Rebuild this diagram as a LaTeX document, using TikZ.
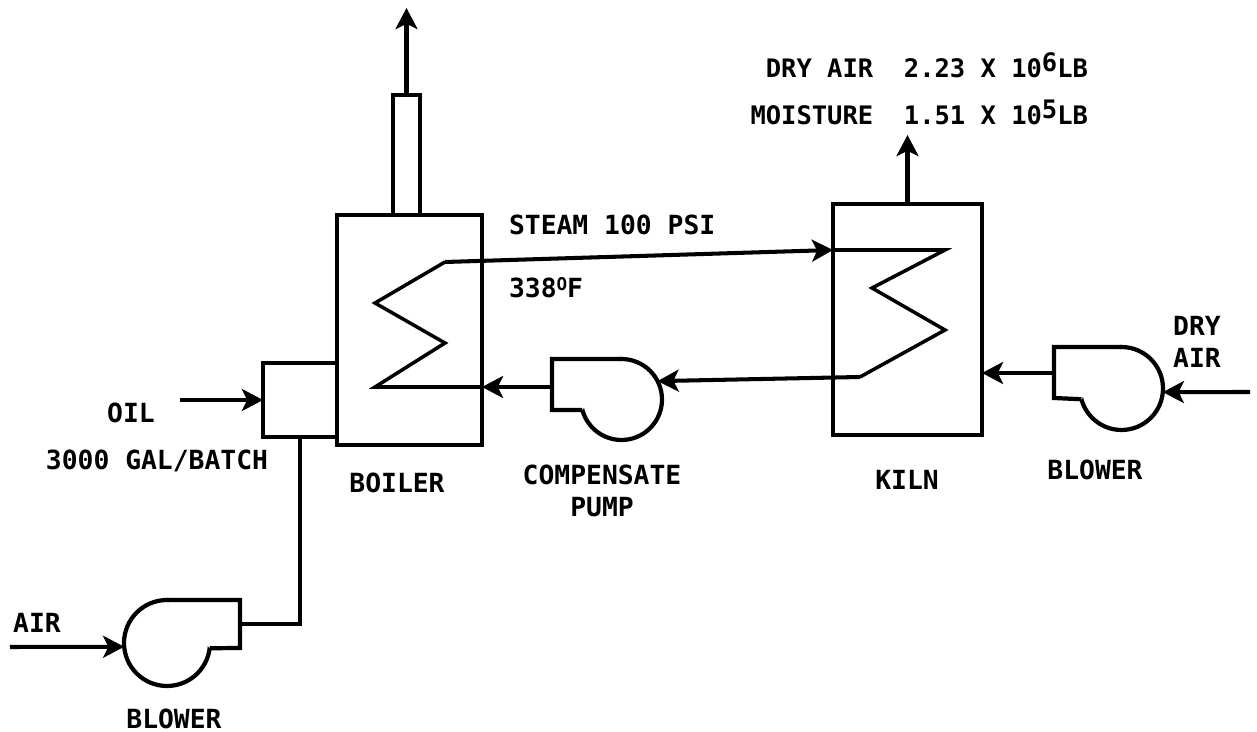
\documentclass[tikz,border=0pt]{standalone}
\usepackage{fontspec}
\setmainfont{DejaVu Sans Mono}
\usetikzlibrary{arrows.meta}
\newcommand\upnum[1]{\raisebox{3.5pt}{#1}}
\newcommand\updeg{\raisebox{4.5pt}{\fontsize{10}{10}\selectfont O}}

\begin{document}
\begin{tikzpicture}[x=0.02cm,y=-0.02cm,>={Stealth[length=12pt,width=12.5pt,inset=3pt]},line width=2.3pt,
    unit/.style={draw,line width=2.7pt,inner sep=0pt,outer sep=0pt},
    fan/.style={draw,circle,line width=2.4pt,inner sep=0pt,outer sep=0pt},
    txt/.style={anchor=base,inner sep=0pt,font=\fontsize{15}{18.7}\selectfont\bfseries},
    coil/.style={line width=2pt}]
    \useasboundingbox (0,0) rectangle (1257,732);
    % equipment
    \node[unit,minimum width=2.9cm,minimum height=4.6cm](boiler)at(409.5,330){};
    \node[unit,minimum width=1.48cm,minimum height=1.48cm](burner)at(300,400){};
    \node[unit,minimum width=0.54cm,minimum height=2.4cm](stack)at(406.5,155){};
    \node[unit,minimum width=2.98cm,minimum height=4.62cm](kiln)at(907.5,319.5){};
    \node[fan,minimum size=1.62cm](pump)at(621.5,399.5){};
    \node[fan,minimum size=1.72cm](blowA)at(167,643){};
    \node[fan,minimum size=1.66cm](blowK)at(1121.5,388.5){};
    % outlets of pump and blowers
    \fill[white](pump.north)--++(-69.5,0)--++(0,51)--(pump.195)--cycle;
    \draw[line width=2.4pt](pump.north)--++(-69.5,0)--++(0,51)--(pump.195);
    \fill[white](blowA.north)--++(73,0)--++(0,48)--(blowA.-7)--cycle;
    \draw[line width=2.4pt](blowA.north)--++(73,0)--++(0,48)--(blowA.-7);
    \fill[white](blowK.north)--++(-67.5,0)--++(0,51)--(blowK.195)--cycle;
    \draw[line width=2.4pt](blowK.north)--++(-67.5,0)--++(0,51)--(blowK.195);
    % coil points and free ends
    \coordinate(b1)at(445,262);
    \coordinate(b2)at(375,303);
    \coordinate(b3)at(445,343);
    \coordinate(b4)at(375,387);
    \coordinate(k1)at(945,250);
    \coordinate(k2)at(872,288);
    \coordinate(k3)at(945,330);
    \coordinate(k4)at(860,377);
    \coordinate(stackout)at(402,8);
    \coordinate(oilin)at(180,400);
    \coordinate(airin)at(10,647);
    \coordinate(dryin)at(1250,392);
    \coordinate(kilnout)at(907.5,135);
    \coordinate(pumpout)at(552,387);
    \coordinate(blowAout)at(240,624);
    \coordinate(blowKout)at(1054,373);
    % lines
    \draw[coil](boiler.east|-b4)--(b4)--(b3)--(b2)--(b1);
    \draw[coil](kiln.west|-k1)--(k1)--(k2)--(k3)--(k4);
    \draw[->](b1)--(kiln.west|-k1);
    \draw[->](k4)--(pump.27);
    \draw[->](pumpout)--(pumpout-|boiler.east);
    \draw[->](stack.north)--(stack.north|-stackout);
    \draw[->](kiln.north)--(kilnout);
    \draw[->](oilin)--(burner.west);
    \draw[->](airin)--(blowA.185);
    \draw(blowAout)-|(burner.south);
    \draw[->](blowKout)--(blowKout-|kiln.east);
    \draw[->](dryin)--(blowK.-5);
    % texts
    \node[txt](oil)at(131,423){OIL};
    \node[txt](oilrate)at(157,470){3000 GAL/BATCH};
    \node[txt](boilertxt)at(397,493){BOILER};
    \node[txt,anchor=base west](steam)at(507,235){STEAM 100 PSI};
    \node[txt,anchor=base west](temp)at(507,298){338\updeg F};
    \node[txt,align=center](pumptxt)at(602,517){COMPENSATE\\PUMP};
    \node[txt](kilntxt)at(907,490){KILN};
    \node[txt](blowKtxt)at(1095,480){BLOWER};
    \node[txt,align=center](drytxt)at(1197,368){DRY\\AIR};
    \node[txt](airtxt)at(37,632){AIR};
    \node[txt](blowAtxt)at(174,728){BLOWER};
    \node[txt,anchor=base east,align=right,font=\fontsize{14.5}{27.2}\selectfont\bfseries](exhaust)at(1090,125)
        {DRY AIR~~2.23 X 10\upnum{6}LB\\MOISTURE~~1.51 X 10\upnum{5}LB};
\end{tikzpicture}
\end{document}
